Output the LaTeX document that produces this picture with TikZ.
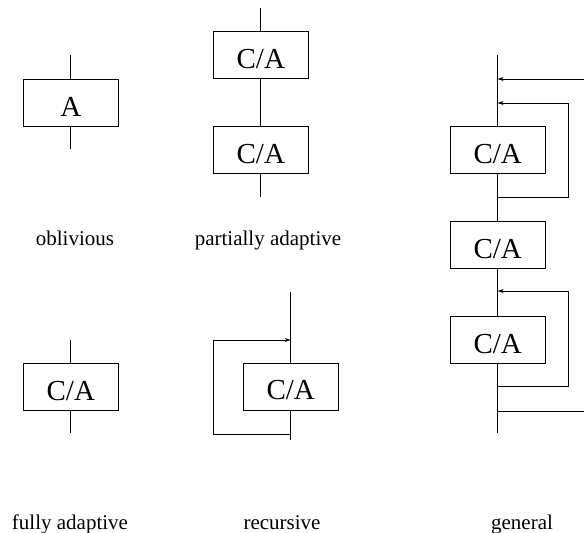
\documentclass[tikz,border=0pt]{standalone}
\usepackage{fontspec}
\setmainfont{Liberation Serif}
\usetikzlibrary{arrows.meta}
\begin{document}
\begin{tikzpicture}[x=1pt,y=-1pt,
  line width=0.8pt,
  blk/.style={draw, line width=0.8pt, minimum width=95pt, minimum height=47pt, inner sep=0pt,
    font=\fontsize{29}{34}\selectfont, text height=27pt, text depth=0pt},
  lbl/.style={anchor=base, inner sep=0pt, font=\fontsize{21}{25}\selectfont},
  arr/.style={-{Stealth[length=6pt,width=4pt]}}]
\useasboundingbox (0,0) rectangle (584,533);
% oblivious
\node[blk] (ob) at (70.8,102.5) {A};
\coordinate (obt) at (70.8,55);
\coordinate (obb) at (70.8,149);
\draw (obt) -- (ob.north);
\draw (ob.south) -- (obb);
\node[lbl] (lob) at (75,245) {oblivious};
% partially adaptive
\node[blk] (pa1) at (260.8,55.2) {C/A};
\node[blk] (pa2) at (260.8,150) {C/A};
\coordinate (pat) at (260.8,8);
\coordinate (pab) at (260.8,197);
\draw (pat) -- (pa1.north);
\draw (pa1.south) -- (pa2.north);
\draw (pa2.south) -- (pab);
\node[lbl] (lpa) at (268,245) {partially adaptive};
% fully adaptive
\node[blk] (fa) at (70.8,386.7) {C/A};
\coordinate (fat) at (70.8,340);
\coordinate (fab) at (70.8,433);
\draw (fat) -- (fa.north);
\draw (fa.south) -- (fab);
\node[lbl] (lfa) at (70,529) {fully adaptive};
% recursive
\node[blk] (re) at (290.7,386.4) {C/A};
\coordinate (ret) at (290.7,292);
\coordinate (reb) at (290.7,440);
\coordinate (rein) at (290.7,340);
\coordinate (reout) at (290.7,434);
\draw (ret) -- (re.north);
\draw (re.south) -- (reb);
\draw[arr] (reout) -- (213.3,434) -- (213.3,340) -- (rein);
\node[lbl] (lre) at (282,529) {recursive};
% general
\node[blk] (g1) at (497.7,150) {C/A};
\node[blk] (g2) at (497.7,245) {C/A};
\node[blk] (g3) at (497.7,339.7) {C/A};
\coordinate (gt) at (497.7,55);
\coordinate (gb) at (497.7,433);
\coordinate (ga1) at (497.7,79);
\coordinate (ga1s) at (584,79);
\coordinate (ga2) at (497.7,103);
\coordinate (gl1) at (497.7,197);
\coordinate (ga3) at (497.7,291);
\coordinate (gl2) at (497.7,386.7);
\coordinate (gbo) at (497.7,411);
\coordinate (gbe) at (584,411);
\draw (gt) -- (g1.north);
\draw (g1.south) -- (g2.north);
\draw (g2.south) -- (g3.north);
\draw (g3.south) -- (gb);
\draw[arr] (ga1s) -- (ga1);
\draw[arr] (gl1) -- (568,197) -- (568,103) -- (ga2);
\draw[arr] (gl2) -- (568,386.7) -- (568,291) -- (ga3);
\draw (gbo) -- (gbe);
\node[lbl] (lge) at (522,529) {general};
\end{tikzpicture}
\end{document}
